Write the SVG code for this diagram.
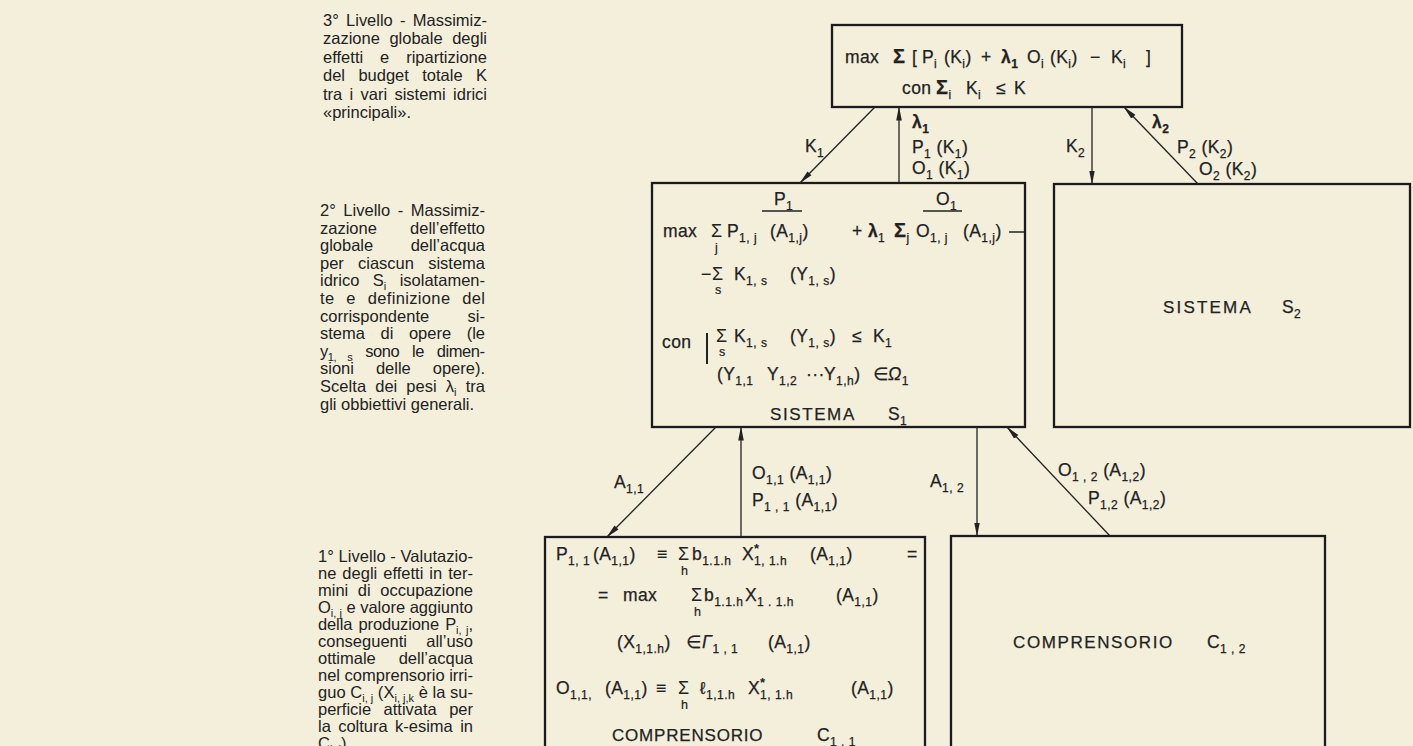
<svg xmlns="http://www.w3.org/2000/svg" width="1413" height="746" viewBox="0 0 1413 746">
<defs>
<style>
text{font-family:"Liberation Sans","DejaVu Sans",Arial,sans-serif;fill:#222;}
.sd{font-size:16.5px;}
.f{font-size:17.5px;letter-spacing:0.4px;stroke:#222;stroke-width:0.25px;}
.b{font-size:12px;baseline-shift:-4.5px;letter-spacing:0.5px;}
.bs{font-size:11px;baseline-shift:-4px;}
.sg{font-size:20px;font-weight:bold;}
.ss{font-size:18px;}
.ix{font-size:12.5px;stroke:#222;stroke-width:0.2px;}
.cap{font-size:17px;letter-spacing:1.6px;stroke:#222;stroke-width:0.25px;}
.box{fill:none;stroke:#1b1b1b;stroke-width:2.3;}
.ul{stroke:#222;stroke-width:1.5;}
.cn{fill:none;stroke:#222;stroke-width:1.3;marker-end:url(#ah);}
</style>
<marker id="ah" markerUnits="userSpaceOnUse" markerWidth="14" markerHeight="8" viewBox="0 0 14 8" refX="13.5" refY="4" orient="auto"><path d="M0,1.2 L14,4 L0,6.8 z" fill="#222"/></marker>
</defs>
<rect width="1413" height="746" fill="#f4efdb"/>

<g id="level3-text">
<text class="sd" x="323" y="26" word-spacing="2.7" textLength="164" lengthAdjust="spacing">3° Livello - Massimiz-</text>
<text class="sd" x="323" y="44.4" word-spacing="5" textLength="164" lengthAdjust="spacing">zazione globale degli</text>
<text class="sd" x="323" y="62.8" word-spacing="12.3" textLength="164" lengthAdjust="spacing">effetti e ripartizione</text>
<text class="sd" x="323" y="81.2" word-spacing="8.8" textLength="164" lengthAdjust="spacing">del budget totale K</text>
<text class="sd" x="323" y="99.6" word-spacing="2.7" textLength="164" lengthAdjust="spacing">tra i vari sistemi idrici</text>
<text class="sd" x="323" y="118">«principali».</text>
</g>

<g id="level2-text">
<text class="sd" x="320" y="216" word-spacing="3" textLength="165" lengthAdjust="spacing">2° Livello - Massimiz-</text>
<text class="sd" x="320" y="233.6">zazione</text><text class="sd" x="485" y="233.6" text-anchor="end">dell’effetto</text>
<text class="sd" x="320" y="251.2">globale</text><text class="sd" x="485" y="251.2" text-anchor="end">dell’acqua</text>
<text class="sd" x="320" y="268.8" word-spacing="9.6" textLength="165" lengthAdjust="spacing">per ciascun sistema</text>
<text class="sd" x="320" y="286.4" word-spacing="8.8" textLength="165" lengthAdjust="spacing">idrico S<tspan class="bs">i</tspan> isolatamen-</text>
<text class="sd" x="320" y="304" word-spacing="6.9" textLength="165" lengthAdjust="spacing">te e definizione del</text>
<text class="sd" x="320" y="321.6">corrispondente</text><text class="sd" x="485" y="321.6" text-anchor="end">si-</text>
<text class="sd" x="320" y="339.2" word-spacing="11" textLength="165" lengthAdjust="spacing">stema di opere (le</text>
<text class="sd" x="320" y="356.8" word-spacing="8.7" textLength="165" lengthAdjust="spacing">y<tspan class="bs">1, s</tspan> sono le dimen-</text>
<text class="sd" x="320" y="374.4" word-spacing="17.4" textLength="165" lengthAdjust="spacing">sioni delle opere).</text>
<text class="sd" x="320" y="392" word-spacing="4.4" textLength="165" lengthAdjust="spacing">Scelta dei pesi λ<tspan class="bs">i</tspan> tra</text>
<text class="sd" x="320" y="409.6">gli obbiettivi generali.</text>
</g>

<g id="level1-text">
<text class="sd" x="318" y="562" textLength="155" lengthAdjust="spacing">1° Livello - Valutazio-</text>
<text class="sd" x="318" y="579" word-spacing="1.4" textLength="155" lengthAdjust="spacing">ne degli effetti in ter-</text>
<text class="sd" x="318" y="596" word-spacing="5" textLength="155" lengthAdjust="spacing">mini di occupazione</text>
<text class="sd" x="318" y="613" textLength="155" lengthAdjust="spacing">O<tspan class="bs">i, j</tspan> e valore aggiunto</text>
<text class="sd" x="318" y="630" word-spacing="1.8" textLength="155" lengthAdjust="spacing">della produzione P<tspan class="bs">i, j</tspan>,</text>
<text class="sd" x="318" y="647">conseguenti</text><text class="sd" x="473" y="647" text-anchor="end">all’uso</text>
<text class="sd" x="318" y="664">ottimale</text><text class="sd" x="473" y="664" text-anchor="end">dell’acqua</text>
<text class="sd" x="318" y="681" textLength="155" lengthAdjust="spacing">nel comprensorio irri-</text>
<text class="sd" x="318" y="698" textLength="155" lengthAdjust="spacing">guo C<tspan class="bs">i, j</tspan> (X<tspan class="bs">i, j,k</tspan> è la su-</text>
<text class="sd" x="318" y="715" word-spacing="7.8" textLength="155" lengthAdjust="spacing">perficie attivata per</text>
<text class="sd" x="318" y="732" word-spacing="2.8" textLength="155" lengthAdjust="spacing">la coltura k-esima in</text>
<text class="sd" x="318" y="749">C<tspan class="bs">i, j</tspan>).</text>
</g>

<g id="top-node">
<rect class="box" x="832" y="25" width="350" height="82"/>
<text class="f" y="63"><tspan x="845">max</tspan><tspan x="893" class="sg">Σ</tspan><tspan x="912">[</tspan><tspan x="922">P<tspan class="b">i</tspan></tspan><tspan x="944">(K<tspan class="b">i</tspan>)</tspan><tspan x="981">+</tspan><tspan x="1001" font-weight="bold">λ<tspan class="b">1</tspan></tspan><tspan x="1027">O<tspan class="b">i</tspan></tspan><tspan x="1050">(K<tspan class="b">i</tspan>)</tspan><tspan x="1090">−</tspan><tspan x="1111">K<tspan class="b">i</tspan></tspan><tspan x="1146">]</tspan></text>
<text class="f" y="94"><tspan x="902">con</tspan><tspan x="936" class="sg">Σ</tspan><tspan class="b">i</tspan><tspan x="966">K<tspan class="b">i</tspan></tspan><tspan x="996">≤</tspan><tspan x="1014">K</tspan></text>
</g>

<g id="sistema-s1">
<rect class="box" x="652" y="183" width="373" height="244"/>
<text class="f" x="774" y="205">P<tspan class="b">1</tspan></text>
<line class="ul" x1="762" y1="211" x2="802" y2="211"/>
<text class="f" x="936" y="205">O<tspan class="b">1</tspan></text>
<line class="ul" x1="923" y1="211" x2="962" y2="211"/>
<text class="f" x="663" y="237">max</text>
<text class="ss" x="711" y="237">Σ</text><text class="ix" x="715" y="252">j</text>
<text class="f" x="727" y="237">P<tspan class="b">1, j</tspan></text>
<text class="f" x="770" y="237">(A<tspan class="b">1,j</tspan>)</text>
<text class="f" x="852" y="237">+ <tspan font-weight="bold">λ</tspan><tspan class="b">1</tspan></text>
<text class="f" x="894" y="237"><tspan class="sg">Σ</tspan><tspan class="b">j</tspan></text>
<text class="f" x="916" y="237">O<tspan class="b">1, j</tspan></text>
<text class="f" x="963" y="237">(A<tspan class="b">1,j</tspan>)</text>
<line class="ul" x1="1009" y1="232" x2="1024" y2="232"/>
<text class="f" x="701" y="280">−</text>
<text class="ss" x="712" y="280">Σ</text><text class="ix" x="715" y="294">s</text>
<text class="f" x="734" y="280">K<tspan class="b">1, s</tspan></text>
<text class="f" x="790" y="280">(Y<tspan class="b">1, s</tspan>)</text>
<text class="f" x="662" y="348">con</text>
<line x1="707" y1="333" x2="707" y2="364" stroke="#222" stroke-width="2"/>
<text class="ss" x="716" y="342">Σ</text><text class="ix" x="719" y="356">s</text>
<text class="f" x="734" y="342">K<tspan class="b">1, s</tspan></text>
<text class="f" x="790" y="342">(Y<tspan class="b">1, s</tspan>)</text>
<text class="f" x="852" y="342">≤</text>
<text class="f" x="873" y="342">K<tspan class="b">1</tspan></text>
<text class="f" x="717" y="380">(Y<tspan class="b">1,1</tspan></text>
<text class="f" x="767" y="380">Y<tspan class="b">1,2</tspan></text>
<text class="f" x="806" y="380">···</text>
<text class="f" x="824" y="380">Y<tspan class="b">1,h</tspan>)</text>
<text class="f" x="873" y="380">∈</text>
<text class="f" x="888" y="380" font-style="italic">Ω<tspan class="b" font-style="normal">1</tspan></text>
<text class="cap" x="770" y="420">SISTEMA</text>
<text class="f" x="888" y="420">S<tspan class="b">1</tspan></text>
</g>

<g id="sistema-s2">
<rect class="box" x="1054" y="184" width="356" height="243"/>
<text class="cap" x="1163" y="313" style="letter-spacing:2.2px">SISTEMA</text>
<text class="f" x="1282" y="313">S<tspan class="b">2</tspan></text>
</g>

<g id="comprensorio-c11">
<rect class="box" x="545" y="537" width="380" height="220"/>
<text class="f" x="556" y="560">P<tspan class="b">1, 1</tspan></text>
<text class="f" x="593" y="560">(A<tspan class="b">1,1</tspan>)</text>
<text class="f" x="657" y="560">≡</text>
<text class="ss" x="678" y="560">Σ</text><text class="ix" x="681" y="575">h</text>
<text class="f" x="692" y="560">b<tspan class="b">1.1.h</tspan></text>
<text class="f" x="742" y="560">X<tspan class="b">1, 1.h</tspan></text>
<text x="754" y="553" style="font-size:13px;font-weight:bold">*</text>
<text class="f" x="810" y="560">(A<tspan class="b">1,1</tspan>)</text>
<text class="f" x="907" y="560">=</text>
<text class="f" x="598" y="601">=</text>
<text class="f" x="623" y="601">max</text>
<text class="ss" x="691" y="601">Σ</text><text class="ix" x="694" y="616">h</text>
<text class="f" x="704" y="601">b<tspan class="b">1.1.h</tspan></text>
<text class="f" x="745" y="601">X<tspan class="b">1 . 1.h</tspan></text>
<text class="f" x="836" y="601">(A<tspan class="b">1,1</tspan>)</text>
<text class="f" x="617" y="648">(X<tspan class="b">1,1.h</tspan>)</text>
<text class="f" x="686" y="648">∈</text>
<text class="f" x="702" y="648" font-style="italic">Γ<tspan class="b" font-style="normal">1 , 1</tspan></text>
<text class="f" x="768" y="648">(A<tspan class="b">1,1</tspan>)</text>
<text class="f" x="556" y="694">O<tspan class="b">1,1,</tspan></text>
<text class="f" x="605" y="694">(A<tspan class="b">1,1</tspan>)</text>
<text class="f" x="656" y="694">≡</text>
<text class="ss" x="678" y="694">Σ</text><text class="ix" x="681" y="709">h</text>
<text class="f" x="700" y="694">ℓ<tspan class="b">1,1.h</tspan></text>
<text class="f" x="748" y="694">X<tspan class="b">1, 1.h</tspan></text>
<text x="760" y="687" style="font-size:13px;font-weight:bold">*</text>
<text class="f" x="851" y="694">(A<tspan class="b">1,1</tspan>)</text>
<text class="cap" x="612" y="741" style="letter-spacing:0.8px">COMPRENSORIO</text>
<text class="f" x="817" y="741">C<tspan class="b">1 , 1</tspan></text>
</g>

<g id="comprensorio-c12">
<rect class="box" x="951" y="536" width="374" height="220"/>
<text class="cap" x="1013" y="648">COMPRENSORIO</text>
<text class="f" x="1207" y="648">C<tspan class="b">1 , 2</tspan></text>
</g>

<g id="connectors">
<line class="cn" x1="875" y1="107" x2="800" y2="183"/>
<line class="cn" x1="899" y1="183" x2="899" y2="107"/>
<line class="cn" x1="1092" y1="107" x2="1092" y2="184"/>
<line class="cn" x1="1198" y1="184" x2="1124" y2="107"/>
<line class="cn" x1="716" y1="427" x2="607" y2="537"/>
<line class="cn" x1="741" y1="537" x2="741" y2="427"/>
<line class="cn" x1="977" y1="427" x2="977" y2="536"/>
<line class="cn" x1="1110" y1="536" x2="1007" y2="427"/>
</g>

<g id="connector-labels">
<text class="f" x="805" y="152">K<tspan class="b">1</tspan></text>
<text class="f" x="912" y="128" font-weight="bold">λ<tspan class="b">1</tspan></text>
<text class="f" x="912" y="153">P<tspan class="b">1</tspan> (K<tspan class="b">1</tspan>)</text>
<text class="f" x="912" y="174">O<tspan class="b">1</tspan> (K<tspan class="b">1</tspan>)</text>
<text class="f" x="1066" y="152">K<tspan class="b">2</tspan></text>
<text class="f" x="1152" y="128" font-weight="bold">λ<tspan class="b">2</tspan></text>
<text class="f" x="1177" y="153">P<tspan class="b">2</tspan> (K<tspan class="b">2</tspan>)</text>
<text class="f" x="1199" y="175">O<tspan class="b">2</tspan> (K<tspan class="b">2</tspan>)</text>
<text class="f" x="614" y="488">A<tspan class="b">1,1</tspan></text>
<text class="f" x="752" y="479">O<tspan class="b">1,1</tspan> (A<tspan class="b">1,1</tspan>)</text>
<text class="f" x="752" y="506">P<tspan class="b">1 , 1</tspan> (A<tspan class="b">1,1</tspan>)</text>
<text class="f" x="930" y="487">A<tspan class="b">1, 2</tspan></text>
<text class="f" x="1058" y="476">O<tspan class="b">1 , 2</tspan> (A<tspan class="b">1,2</tspan>)</text>
<text class="f" x="1088" y="504">P<tspan class="b">1,2</tspan> (A<tspan class="b">1,2</tspan>)</text>
</g>
</svg>
